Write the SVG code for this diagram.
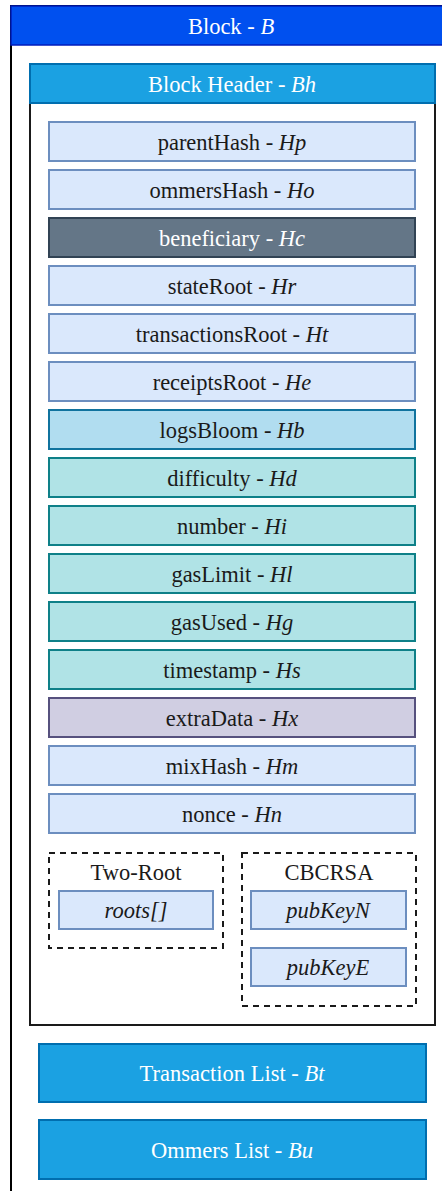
<svg xmlns="http://www.w3.org/2000/svg" width="442" height="1191" viewBox="0 0 442 1191">
  <style>
    text { font-family: "Liberation Serif", "Times New Roman", serif; font-size: 22.5px; text-anchor: middle; dominant-baseline: central; fill: #1a1a1a; }
    .light { fill: #ffffff; }
    .f { fill: #dae8fc; stroke: #6c8ebf; stroke-width: 2; }
    .dark { fill: #647687; stroke: #314354; stroke-width: 2; }
    .bloom { fill: #b1ddf0; stroke: #10739e; stroke-width: 2; }
    .teal { fill: #b0e3e6; stroke: #0e8088; stroke-width: 2; }
    .purple { fill: #d0cee2; stroke: #56517e; stroke-width: 2; }
    .sky { fill: #1ba1e2; stroke: #006eaf; stroke-width: 2; }
    .dash { fill: none; stroke: #1a1a1a; stroke-width: 2; stroke-dasharray: 6 5; }
  </style>

  <!-- Block container -->
  <g id="block">
    <rect x="11" y="6" width="450" height="1200" fill="#ffffff" stroke="#000000" stroke-width="2"/>
    <rect x="11" y="6" width="450" height="39" fill="#0050ef" stroke="#001dbc" stroke-width="1.5"/>
    <text x="231" y="26" class="light">Block - <tspan font-style="italic">B</tspan></text>
  </g>

  <!-- Block header container -->
  <g id="block-header">
    <rect x="30" y="64" width="405" height="961" fill="#ffffff" stroke="#1a1a1a" stroke-width="2"/>
    <rect x="30" y="64" width="405" height="39" class="sky"/>
    <text x="232" y="84" class="light">Block Header - <tspan font-style="italic">Bh</tspan></text>
  </g>

  <!-- Header fields -->
  <g id="parentHash"><rect x="49" y="122" width="366" height="39" class="f"/><text x="232" y="142">parentHash - <tspan font-style="italic">Hp</tspan></text></g>
  <g id="ommersHash"><rect x="49" y="170" width="366" height="39" class="f"/><text x="232" y="190">ommersHash - <tspan font-style="italic">Ho</tspan></text></g>
  <g id="beneficiary"><rect x="49" y="218" width="366" height="39" class="dark"/><text x="232" y="238" class="light">beneficiary - <tspan font-style="italic">Hc</tspan></text></g>
  <g id="stateRoot"><rect x="49" y="266" width="366" height="39" class="f"/><text x="232" y="286">stateRoot - <tspan font-style="italic">Hr</tspan></text></g>
  <g id="transactionsRoot"><rect x="49" y="314" width="366" height="39" class="f"/><text x="232" y="334">transactionsRoot - <tspan font-style="italic">Ht</tspan></text></g>
  <g id="receiptsRoot"><rect x="49" y="362" width="366" height="39" class="f"/><text x="232" y="382">receiptsRoot - <tspan font-style="italic">He</tspan></text></g>
  <g id="logsBloom"><rect x="49" y="410" width="366" height="39" class="bloom"/><text x="232" y="430">logsBloom - <tspan font-style="italic">Hb</tspan></text></g>
  <g id="difficulty"><rect x="49" y="458" width="366" height="39" class="teal"/><text x="232" y="478">difficulty - <tspan font-style="italic">Hd</tspan></text></g>
  <g id="number"><rect x="49" y="506" width="366" height="39" class="teal"/><text x="232" y="526">number - <tspan font-style="italic">Hi</tspan></text></g>
  <g id="gasLimit"><rect x="49" y="554" width="366" height="39" class="teal"/><text x="232" y="574">gasLimit - <tspan font-style="italic">Hl</tspan></text></g>
  <g id="gasUsed"><rect x="49" y="602" width="366" height="39" class="teal"/><text x="232" y="622">gasUsed - <tspan font-style="italic">Hg</tspan></text></g>
  <g id="timestamp"><rect x="49" y="650" width="366" height="39" class="teal"/><text x="232" y="670">timestamp - <tspan font-style="italic">Hs</tspan></text></g>
  <g id="extraData"><rect x="49" y="698" width="366" height="39" class="purple"/><text x="232" y="718">extraData - <tspan font-style="italic">Hx</tspan></text></g>
  <g id="mixHash"><rect x="49" y="746" width="366" height="39" class="f"/><text x="232" y="766">mixHash - <tspan font-style="italic">Hm</tspan></text></g>
  <g id="nonce"><rect x="49" y="794" width="366" height="39" class="f"/><text x="232" y="814">nonce - <tspan font-style="italic">Hn</tspan></text></g>

  <!-- Two-Root extension -->
  <g id="two-root">
    <rect x="49" y="853" width="174" height="95" class="dash"/>
    <text x="136" y="872">Two-Root</text>
    <rect x="59" y="891" width="154" height="38" class="f"/>
    <text x="136" y="910" font-style="italic">roots[]</text>
  </g>

  <!-- CBCRSA extension -->
  <g id="cbcrsa">
    <rect x="242" y="853" width="174" height="153" class="dash"/>
    <text x="329" y="872">CBCRSA</text>
    <rect x="251" y="891" width="155" height="38" class="f"/>
    <text x="328" y="910" font-style="italic">pubKeyN</text>
    <rect x="251" y="948" width="155" height="38" class="f"/>
    <text x="328" y="967" font-style="italic">pubKeyE</text>
  </g>

  <!-- Block body lists -->
  <g id="transaction-list">
    <rect x="39" y="1044" width="387" height="58" class="sky"/>
    <text x="232" y="1073" class="light">Transaction List - <tspan font-style="italic">Bt</tspan></text>
  </g>
  <g id="ommers-list">
    <rect x="39" y="1120" width="387" height="59" class="sky"/>
    <text x="232" y="1150" class="light">Ommers List - <tspan font-style="italic">Bu</tspan></text>
  </g>

  <g id="connectors"/>
</svg>
